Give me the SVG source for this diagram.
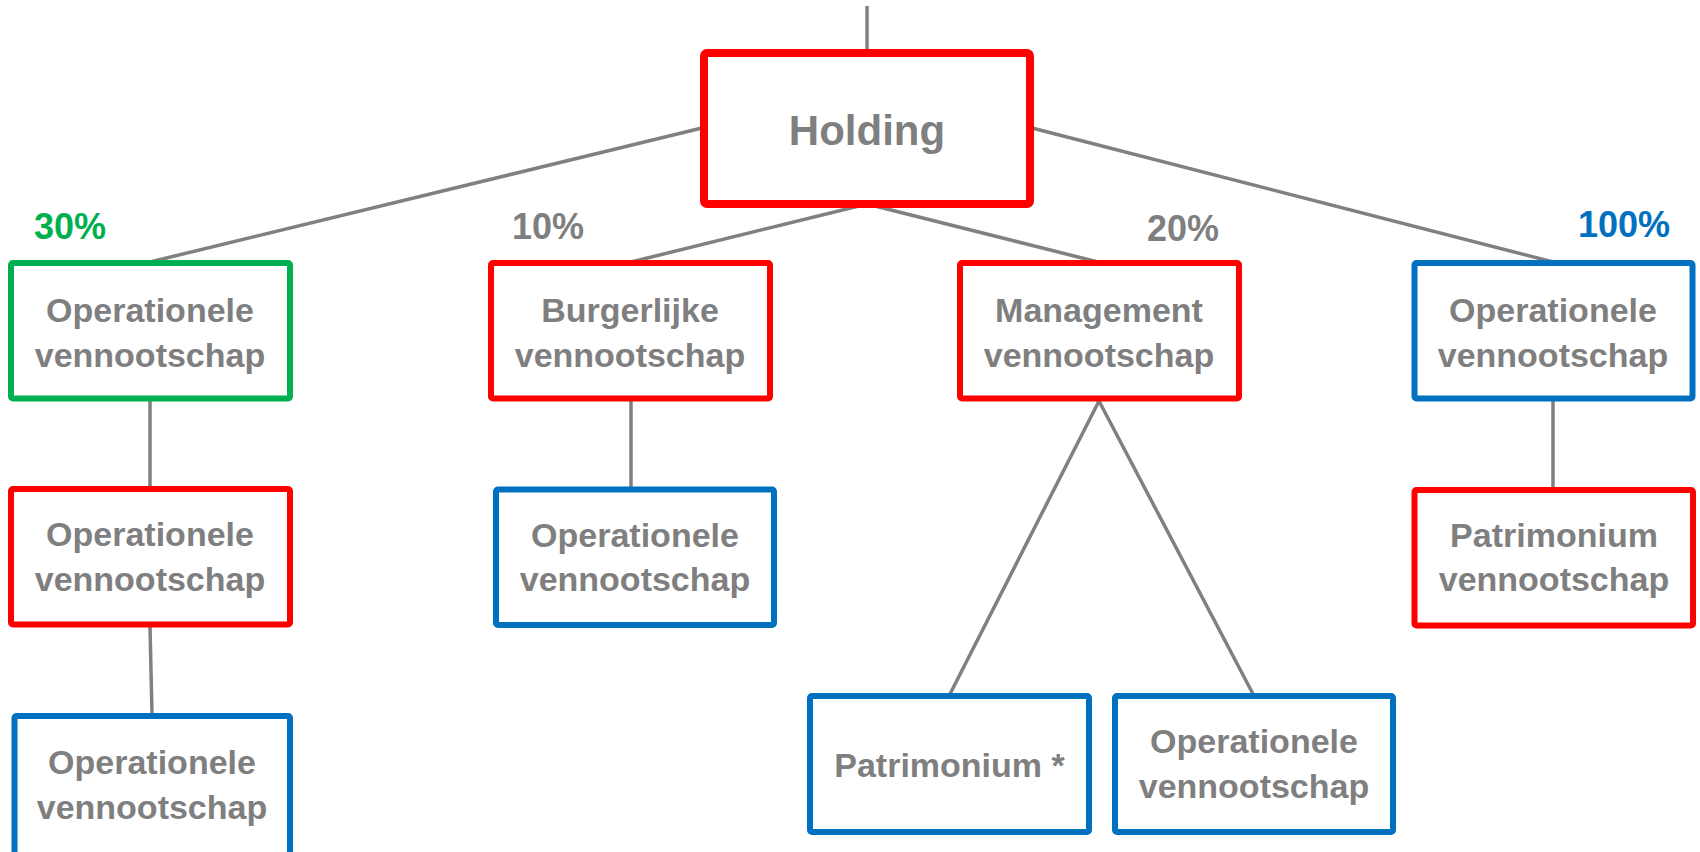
<svg xmlns="http://www.w3.org/2000/svg" width="1700" height="852" viewBox="0 0 1700 852">
  <style>
    .box { fill: #FFFFFF; stroke-width: 6; }
    .red { stroke: #FF0000; }
    .green { stroke: #00B050; }
    .blue { stroke: #0070C0; }
    .lbl { font-family: "Liberation Sans", Arial, sans-serif; font-weight: bold; font-size: 34px; fill: #7F7F7F; text-anchor: middle; }
    .pct { font-family: "Liberation Sans", Arial, sans-serif; font-weight: bold; font-size: 36px; text-anchor: middle; }
    .conn { stroke: #808080; stroke-width: 3.5; fill: none; }
  </style>
  <rect width="1700" height="852" fill="#FFFFFF"/>

  <g id="connectors">
    <line class="conn" x1="867" y1="6" x2="867" y2="53"/>
    <line class="conn" x1="702" y1="128" x2="150" y2="262"/>
    <line class="conn" x1="867" y1="204" x2="631" y2="262"/>
    <line class="conn" x1="867" y1="204" x2="1098" y2="262"/>
    <line class="conn" x1="1032" y1="128" x2="1553" y2="262"/>
    <line class="conn" x1="150" y1="401" x2="150" y2="487"/>
    <line class="conn" x1="150" y1="627" x2="152" y2="714"/>
    <line class="conn" x1="631" y1="401" x2="631" y2="487"/>
    <line class="conn" x1="1553" y1="401" x2="1553" y2="488"/>
    <polyline class="conn" points="950,694 1099,401 1253,694"/>
  </g>

  <g id="holding">
    <rect x="704" y="53" width="326" height="151" rx="3" fill="#FFFFFF" stroke="#FF0000" stroke-width="8"/>
    <text x="867" y="145" class="lbl" style="font-size:42px">Holding</text>
  </g>

  <g id="pct30"><text x="70" y="239" class="pct" fill="#00B050">30%</text></g>
  <g id="pct10"><text x="548" y="239" class="pct" fill="#7F7F7F">10%</text></g>
  <g id="pct20"><text x="1183" y="241" class="pct" fill="#7F7F7F">20%</text></g>
  <g id="pct100"><text x="1624" y="237" class="pct" fill="#0070C0">100%</text></g>

  <g id="op1">
    <rect x="11" y="263" width="279" height="135.5" rx="2" class="box green"/>
    <text x="150" y="322" class="lbl">Operationele</text>
    <text x="150" y="367" class="lbl">vennootschap</text>
  </g>
  <g id="burgerlijke">
    <rect x="491" y="263" width="279" height="135.5" rx="2" class="box red"/>
    <text x="630" y="322" class="lbl">Burgerlijke</text>
    <text x="630" y="367" class="lbl">vennootschap</text>
  </g>
  <g id="management">
    <rect x="960" y="263" width="279" height="135.5" rx="2" class="box red"/>
    <text x="1099" y="322" class="lbl">Management</text>
    <text x="1099" y="367" class="lbl">vennootschap</text>
  </g>
  <g id="op100">
    <rect x="1414.5" y="263" width="278" height="135.5" rx="2" class="box blue"/>
    <text x="1553" y="322" class="lbl">Operationele</text>
    <text x="1553" y="367" class="lbl">vennootschap</text>
  </g>

  <g id="op2">
    <rect x="11" y="489" width="279" height="135.5" rx="2" class="box red"/>
    <text x="150" y="546" class="lbl">Operationele</text>
    <text x="150" y="591" class="lbl">vennootschap</text>
  </g>
  <g id="op3">
    <rect x="14.5" y="716" width="275.5" height="145" rx="2" class="box blue"/>
    <text x="152" y="774" class="lbl">Operationele</text>
    <text x="152" y="819" class="lbl">vennootschap</text>
  </g>
  <g id="op-burg">
    <rect x="496" y="489.5" width="278" height="135.5" rx="2" class="box blue"/>
    <text x="635" y="547" class="lbl">Operationele</text>
    <text x="635" y="591" class="lbl">vennootschap</text>
  </g>
  <g id="patr-vennootschap">
    <rect x="1414.5" y="490" width="278.5" height="135.5" rx="2" class="box red"/>
    <text x="1554" y="547" class="lbl">Patrimonium</text>
    <text x="1554" y="591" class="lbl">vennootschap</text>
  </g>
  <g id="patrimonium">
    <rect x="810" y="696" width="279" height="136" rx="2" class="box blue"/>
    <text x="949.5" y="777" class="lbl">Patrimonium *</text>
  </g>
  <g id="op-mgmt">
    <rect x="1115" y="696" width="278" height="136" rx="2" class="box blue"/>
    <text x="1254" y="753" class="lbl">Operationele</text>
    <text x="1254" y="798" class="lbl">vennootschap</text>
  </g>
</svg>
